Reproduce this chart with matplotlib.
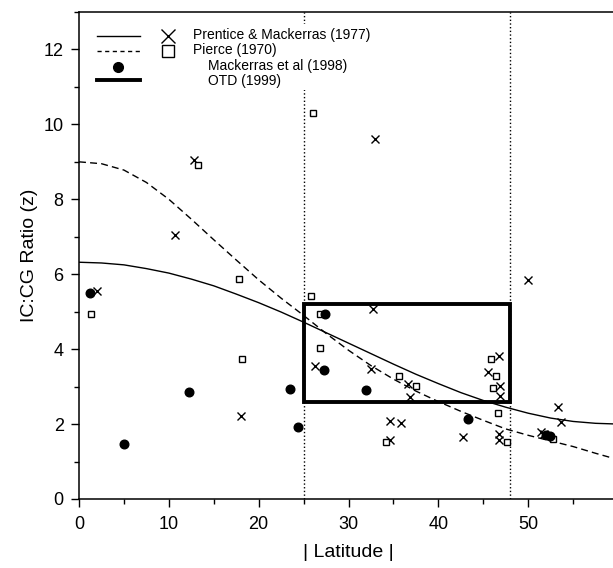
import matplotlib
matplotlib.use("Agg")
import matplotlib.pyplot as plt
from matplotlib.patches import Rectangle
from matplotlib.ticker import MultipleLocator, FixedLocator

plt.rcParams["font.family"] = ["Liberation Sans", "DejaVu Sans"]

# ── Model curves (IC:CG ratio vs |latitude|) ────────────────
curve_lat = [0, 2.5, 5, 7.5, 10, 12.5, 15, 17.5, 20, 22.5, 25, 27.5, 30,
             32.5, 35, 37.5, 40, 42.5, 45, 47.5, 50, 52.5, 55, 57.5, 60]
prentice_curve = [6.32, 6.30, 6.25, 6.15, 6.03, 5.87, 5.69, 5.47, 5.24, 4.99,
                  4.72, 4.44, 4.16, 3.88, 3.60, 3.33, 3.08, 2.84, 2.63, 2.45,
                  2.29, 2.16, 2.07, 2.02, 2.00]
pierce_curve = [9.00, 8.95, 8.78, 8.45, 8.00, 7.47, 6.92, 6.38, 5.85, 5.36,
                4.90, 4.42, 3.97, 3.56, 3.20, 2.88, 2.60, 2.34, 2.10, 1.87,
                1.70, 1.55, 1.40, 1.22, 1.05]

# ── Observations ────────────────────────────────────────────
pm_lat = [2.0, 10.7, 12.8, 18.0, 26.3, 32.5, 32.7, 33.0, 34.6, 34.6, 35.8,
          36.6, 36.8, 42.7, 45.5, 46.8, 46.9, 46.9, 46.7, 46.8, 50.0, 51.4,
          51.8, 53.3, 53.6]
pm_z = [5.55, 7.05, 9.04, 2.22, 3.55, 3.47, 5.07, 9.62, 2.09, 1.57, 2.04,
        3.06, 2.73, 1.65, 3.38, 3.81, 3.02, 2.75, 1.73, 1.57, 5.84, 1.78,
        1.74, 2.46, 2.06]

pierce_lat = [1.3, 13.2, 17.85, 18.1, 26.0, 25.8, 26.8, 26.85, 34.2, 35.6,
              37.5, 45.9, 46.4, 46.1, 46.6, 47.6, 52.8]
pierce_z = [4.93, 8.92, 5.86, 3.75, 10.30, 5.41, 4.93, 4.02, 1.51, 3.28,
            3.02, 3.74, 3.28, 2.97, 2.29, 1.51, 1.60]

mack_lat = [1.2, 5.0, 12.25, 23.5, 24.35, 27.4, 27.3, 32.0, 43.35, 52.0, 52.45]
mack_z = [5.51, 1.46, 2.86, 2.93, 1.93, 4.93, 3.44, 2.91, 2.13, 1.72, 1.69]

# OTD (1999) region
otd_lat = [25, 48]
otd_z = [2.6, 5.2]

x_ticks = [0, 10, 20, 30, 40, 50]

# ── Figure ──────────────────────────────────────────────────
fig = plt.figure(figsize=(6.13, 5.68), dpi=100)
ax = fig.add_axes([0.1289, 0.1215, 0.8793, 0.8574])

ax.axvline(otd_lat[0], color="black", linestyle=":", linewidth=1.0, zorder=1)
ax.axvline(otd_lat[1], color="black", linestyle=":", linewidth=1.0, zorder=1)

ax.plot(curve_lat, prentice_curve, color="black", linewidth=1.0, zorder=2)
ax.plot(curve_lat, pierce_curve, color="black", linewidth=1.0,
        dashes=(5, 3), zorder=2)

ax.add_patch(Rectangle((otd_lat[0], otd_z[0]), otd_lat[1] - otd_lat[0],
                       otd_z[1] - otd_z[0], fill=False, edgecolor="black",
                       linewidth=2.8, zorder=4))

ax.plot(pm_lat, pm_z, "x", color="black", markersize=5.5, mew=1.0, zorder=5)
ax.plot(pierce_lat, pierce_z, "s", mfc="white", mec="black", markersize=4.6,
        mew=1.0, zorder=5)
ax.plot(mack_lat, mack_z, "o", color="black", markersize=6.2, zorder=6)

# ── Legend (drawn by hand, lines and markers in separate columns) ──
tr = ax.transAxes
ax.add_patch(Rectangle((0.017, 0.84), 0.58, 0.135, transform=tr,
                       facecolor="white", edgecolor="none", zorder=7))
ax.plot([0.0334, 0.113], [0.951, 0.951], color="black", lw=1.0,
        transform=tr, zorder=8)
ax.plot([0.0334, 0.113], [0.919, 0.919], color="black", lw=1.0,
        dashes=(3, 2.5), transform=tr, zorder=8)
ax.plot([0.073], [0.887], "o", color="black", markersize=7, transform=tr,
        zorder=8)
ax.plot([0.0334, 0.113], [0.860, 0.860], color="black", lw=2.8,
        transform=tr, zorder=8)
ax.plot([0.165], [0.951], "x", color="black", markersize=9.5, mew=1.0,
        transform=tr, zorder=8)
ax.plot([0.165], [0.920], "s", mfc="white", mec="black", markersize=8,
        mew=1.0, transform=tr, zorder=8)

legend_fs = 10
ax.text(0.2115, 0.953, "Prentice & Mackerras (1977)", transform=tr,
        fontsize=legend_fs, va="center", zorder=9)
ax.text(0.2115, 0.922, "Pierce (1970)", transform=tr,
        fontsize=legend_fs, va="center", zorder=9)
ax.text(0.239, 0.889, "Mackerras et al (1998)", transform=tr,
        fontsize=legend_fs, va="center", zorder=9)
ax.text(0.239, 0.859, "OTD (1999)", transform=tr,
        fontsize=legend_fs, va="center", zorder=9)

# ── Axes styling ────────────────────────────────────────────
ax.set_xlim(0, 60)
ax.set_ylim(0, 13)
ax.xaxis.set_major_locator(FixedLocator(x_ticks))
ax.xaxis.set_minor_locator(MultipleLocator(5))
ax.yaxis.set_major_locator(MultipleLocator(2))
ax.yaxis.set_minor_locator(MultipleLocator(1))
ax.tick_params(which="major", direction="out", length=6, width=1.0,
               labelsize=13, pad=5)
ax.tick_params(which="minor", direction="out", length=3.5, width=1.0)
ax.tick_params(axis="x", which="major", pad=6)
for side in ["left", "bottom", "top"]:
    ax.spines[side].set_linewidth(1.1)
ax.spines["right"].set_visible(False)

ax.set_xlabel("| Latitude |", fontsize=14, labelpad=8)
ax.set_ylabel("IC:CG Ratio (z)", fontsize=14, labelpad=4)

plt.savefig("out.png", dpi=100)
